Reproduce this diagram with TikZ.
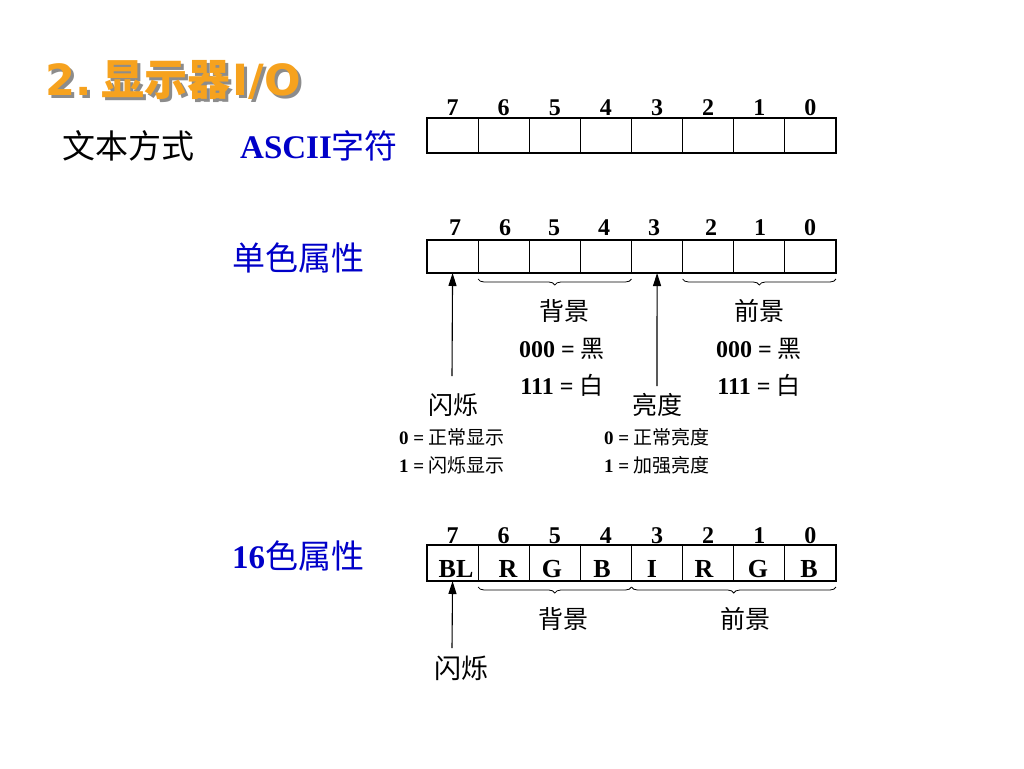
\documentclass[tikz,border=0pt]{standalone}
\usepackage{fontspec}
\setmainfont{Liberation Serif}
\newfontfamily\cjk{Noto Sans CJK SC}
\newfontfamily\titlelat{DejaVu Sans}
\usetikzlibrary{decorations.pathreplacing,arrows.meta}
\definecolor{ttlorange}{RGB}{246,162,30}
\definecolor{lblblue}{RGB}{0,0,200}
\newcommand{\fs}[1]{\fontsize{#1}{#1}\selectfont}
\begin{document}
\begin{tikzpicture}[x=1pt,y=-1pt,
  cell/.style={draw,line width=1.1pt,minimum width=51.1pt,inner sep=0pt,outer sep=0pt},
  bitnum/.style={font=\fs{24}\bfseries,inner sep=0pt},
  bitlet/.style={font=\fs{26}\bfseries,inner sep=0pt},
  lbl/.style={font=\fs{25}\cjk,inner sep=0pt},
  val/.style={font=\fs{24},inner sep=0pt},
  small/.style={font=\fs{19},inner sep=0pt},
  side/.style={font=\fs{33},inner sep=0pt,anchor=west},
  brc/.style={decorate,decoration={brace,mirror,amplitude=6pt},line width=0.8pt},
  arr/.style={line width=1.1pt,-{Triangle[length=13pt,width=8pt]}}]
\useasboundingbox (0,0) rectangle (1024,768);
% title
\node[anchor=west,inner sep=0pt,text=black!45,font=\fs{43}\bfseries] (titleshadow) at (48,83)
  {{\titlelat 2.}\hspace{10pt}{\cjk 显示器}\hspace{2pt}{\titlelat I/O}};
\node[anchor=west,inner sep=0pt,text=ttlorange,font=\fs{43}\bfseries] (title) at (45,80)
  {{\titlelat 2.}\hspace{10pt}{\cjk 显示器}\hspace{2pt}{\titlelat I/O}};
% side labels
\node[side] (txtmode) at (62,146) {\cjk 文本方式};
\node[side,text=lblblue] (ascii) at (240,146) {\bfseries ASCII{\cjk\mdseries 字符}};
\node[side,text=lblblue] (mono) at (232,258) {\cjk 单色属性};
\node[side,text=lblblue] (col16) at (232,556) {\bfseries 16{\cjk\mdseries 色属性}};
% cells
\foreach \i in {0,...,7}{
  \pgfmathsetmacro{\cx}{427+51.125*(\i+0.5)}
  \pgfmathtruncatemacro{\b}{7-\i}
  \node[cell,minimum height=35pt] (a\i) at (\cx,135.5) {};
  \node[cell,minimum height=33pt] (m\i) at (\cx,256.5) {};
  \node[cell,minimum height=36pt] (c\i) at (\cx,563) {};
  \node[bitnum] (an\i) at (\cx,108) {\b};
  \node[bitnum] (cn\i) at (\cx,536) {\b};
}
% row 2 bit numbers (slightly shifted as in the reference)
\node[bitnum] (mn0) at (455,228) {7};
\node[bitnum] (mn1) at (505,228) {6};
\node[bitnum] (mn2) at (554,228) {5};
\node[bitnum] (mn3) at (604,228) {4};
\node[bitnum] (mn4) at (654,228) {3};
\node[bitnum] (mn5) at (711,228) {2};
\node[bitnum] (mn6) at (760,228) {1};
\node[bitnum] (mn7) at (810,228) {0};
% row 3 letters
\node[bitlet] (l0) at (456,569) {BL};
\node[bitlet] (l1) at (508,569) {R};
\node[bitlet] (l2) at (552,569) {G};
\node[bitlet] (l3) at (602,569) {B};
\node[bitlet] (l4) at (652,569) {I};
\node[bitlet] (l5) at (704,569) {R};
\node[bitlet] (l6) at (758,569) {G};
\node[bitlet] (l7) at (809,569) {B};
% braces row 2
\draw[brc] ([yshift=-6pt]m1.south west) -- ([yshift=-6pt]m3.south east);
\draw[brc] ([yshift=-6pt]m5.south west) -- ([yshift=-6pt]m7.south east);
% braces row 3
\draw[brc] ([yshift=-6pt]c1.south west) -- ([yshift=-6pt]c3.south east);
\draw[brc] ([yshift=-6pt]c4.south west) -- ([yshift=-6pt]c7.south east);
% row 2 labels
\node[lbl] (bg2) at (564,311) {背景};
\node[val] (bg0) at (562,349) {\bfseries 000 = {\cjk\mdseries 黑}};
\node[val] (bg1) at (562,385) {\bfseries 111 = {\cjk\mdseries 白}};
\node[lbl] (fg2) at (759,311) {前景};
\node[val] (fg0) at (759,349) {\bfseries 000 = {\cjk\mdseries 黑}};
\node[val] (fg1) at (759,385) {\bfseries 111 = {\cjk\mdseries 白}};
\node[lbl] (blink) at (453,405) {闪烁};
\node[lbl] (bright) at (657,405) {亮度};
\node[small] (bl0) at (452,437) {\bfseries 0 = {\cjk\mdseries 正常显示}};
\node[small] (bl1) at (452,465) {\bfseries 1 = {\cjk\mdseries 闪烁显示}};
\node[small] (br0) at (657,437) {\bfseries 0 = {\cjk\mdseries 正常亮度}};
\node[small] (br1) at (657,465) {\bfseries 1 = {\cjk\mdseries 加强亮度}};
\coordinate (blinkstart) at (452,376);
\coordinate (brightstart) at (657,386);
\draw[arr] (blinkstart) -- (m0.south);
\draw[arr] (brightstart) -- (m4.south);
% row 3 labels
\node[lbl] (bg3) at (563,619) {背景};
\node[lbl] (fg3) at (745,619) {前景};
\node[lbl,font=\fs{27}\cjk] (blink3) at (461,668) {闪烁};
\coordinate (blink3start) at (452,648);
\draw[arr] (blink3start) -- (c0.south);
\end{tikzpicture}
\end{document}
